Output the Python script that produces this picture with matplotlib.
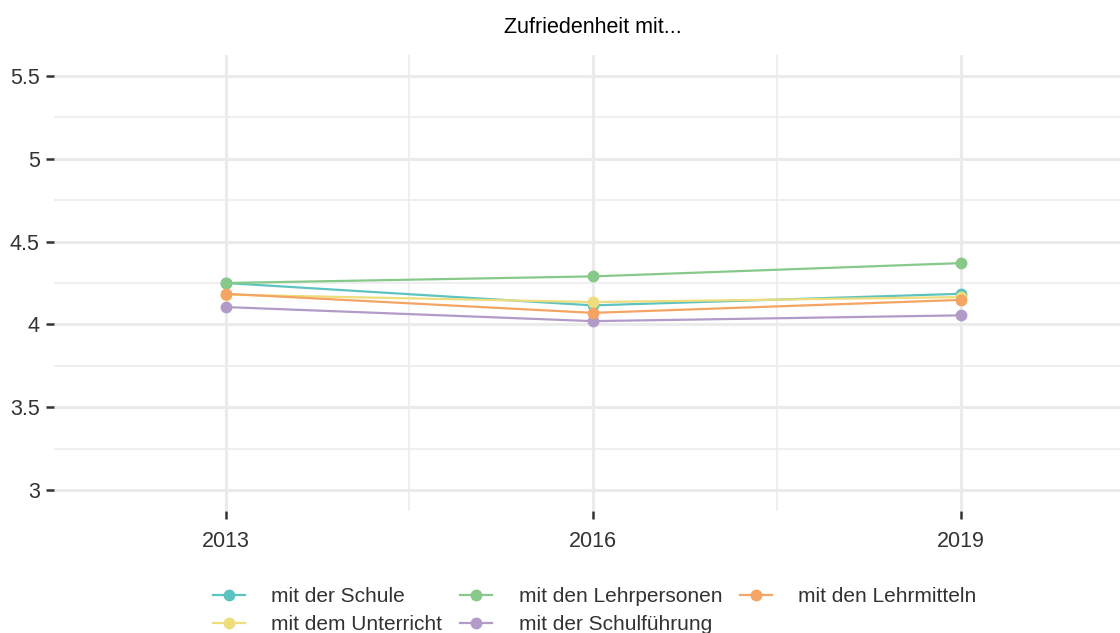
import matplotlib
matplotlib.use("Agg")
import matplotlib.pyplot as plt
from matplotlib.ticker import FixedLocator

# ------------------------------------
# Daten
# ------------------------------------
jahre = [2013, 2016, 2019]
schule = [4.25, 4.115, 4.185]
unterricht = [4.18, 4.135, 4.165]
lehrpersonen = [4.25, 4.29, 4.37]
schulfuehrung = [4.105, 4.02, 4.055]
lehrmitteln = [4.185, 4.07, 4.148]

serien = [
    ("mit der Schule", schule, "#5cc3c1"),
    ("mit dem Unterricht", unterricht, "#eedd7c"),
    ("mit den Lehrpersonen", lehrpersonen, "#86c98a"),
    ("mit der Schulführung", schulfuehrung, "#b39bc9"),
    ("mit den Lehrmitteln", lehrmitteln, "#f4a463"),
]

plt.rcParams['font.family'] = ['Liberation Sans', 'DejaVu Sans']

fig = plt.figure(figsize=(11.2, 6.33), dpi=100)
ax = fig.add_axes([0.0485, 0.1927, 0.9622, 0.7204])

for name, werte, farbe in serien:
    ax.plot(jahre, werte, color=farbe, linewidth=1.6, marker='o',
            markersize=7.5, label=name, zorder=3)

# Achsen
ax.set_xlim(2011.6, 2020.4)
ax.set_ylim(2.875, 5.625)
ax.xaxis.set_major_locator(FixedLocator(jahre))
ax.xaxis.set_minor_locator(FixedLocator([2014.5, 2017.5]))
ax.yaxis.set_major_locator(FixedLocator([3, 3.5, 4, 4.5, 5, 5.5]))
ax.yaxis.set_minor_locator(FixedLocator([3.25, 3.75, 4.25, 4.75, 5.25]))
ax.set_yticklabels(['3', '3.5', '4', '4.5', '5', '5.5'])

ax.grid(which='major', color='#ebebeb', linewidth=2.2, zorder=0)
ax.grid(which='minor', color='#ebebeb', linewidth=1.1, zorder=0)
ax.set_axisbelow(True)
for s in ax.spines.values():
    s.set_visible(False)

ax.tick_params(which='major', length=5.5, width=1.8, color='#333333',
               labelsize=15.5, labelcolor='#333333')
ax.tick_params(axis='x', pad=9)
ax.tick_params(axis='y', pad=5)
ax.tick_params(which='minor', length=0)

fig.text(0.529, 0.957, "Zufriedenheit mit...", ha='center', va='center',
         fontsize=15.5, color='black')

handles, labels = ax.get_legend_handles_labels()
fig.legend(handles, labels, ncol=3, loc='upper center',
           bbox_to_anchor=(0.531, 0.096), frameon=False, fontsize=15,
           handlelength=1.55, handletextpad=1.25, columnspacing=0.85,
           labelspacing=0.45, labelcolor='#333333', borderpad=0.2)

plt.savefig("out.png", dpi=100)
